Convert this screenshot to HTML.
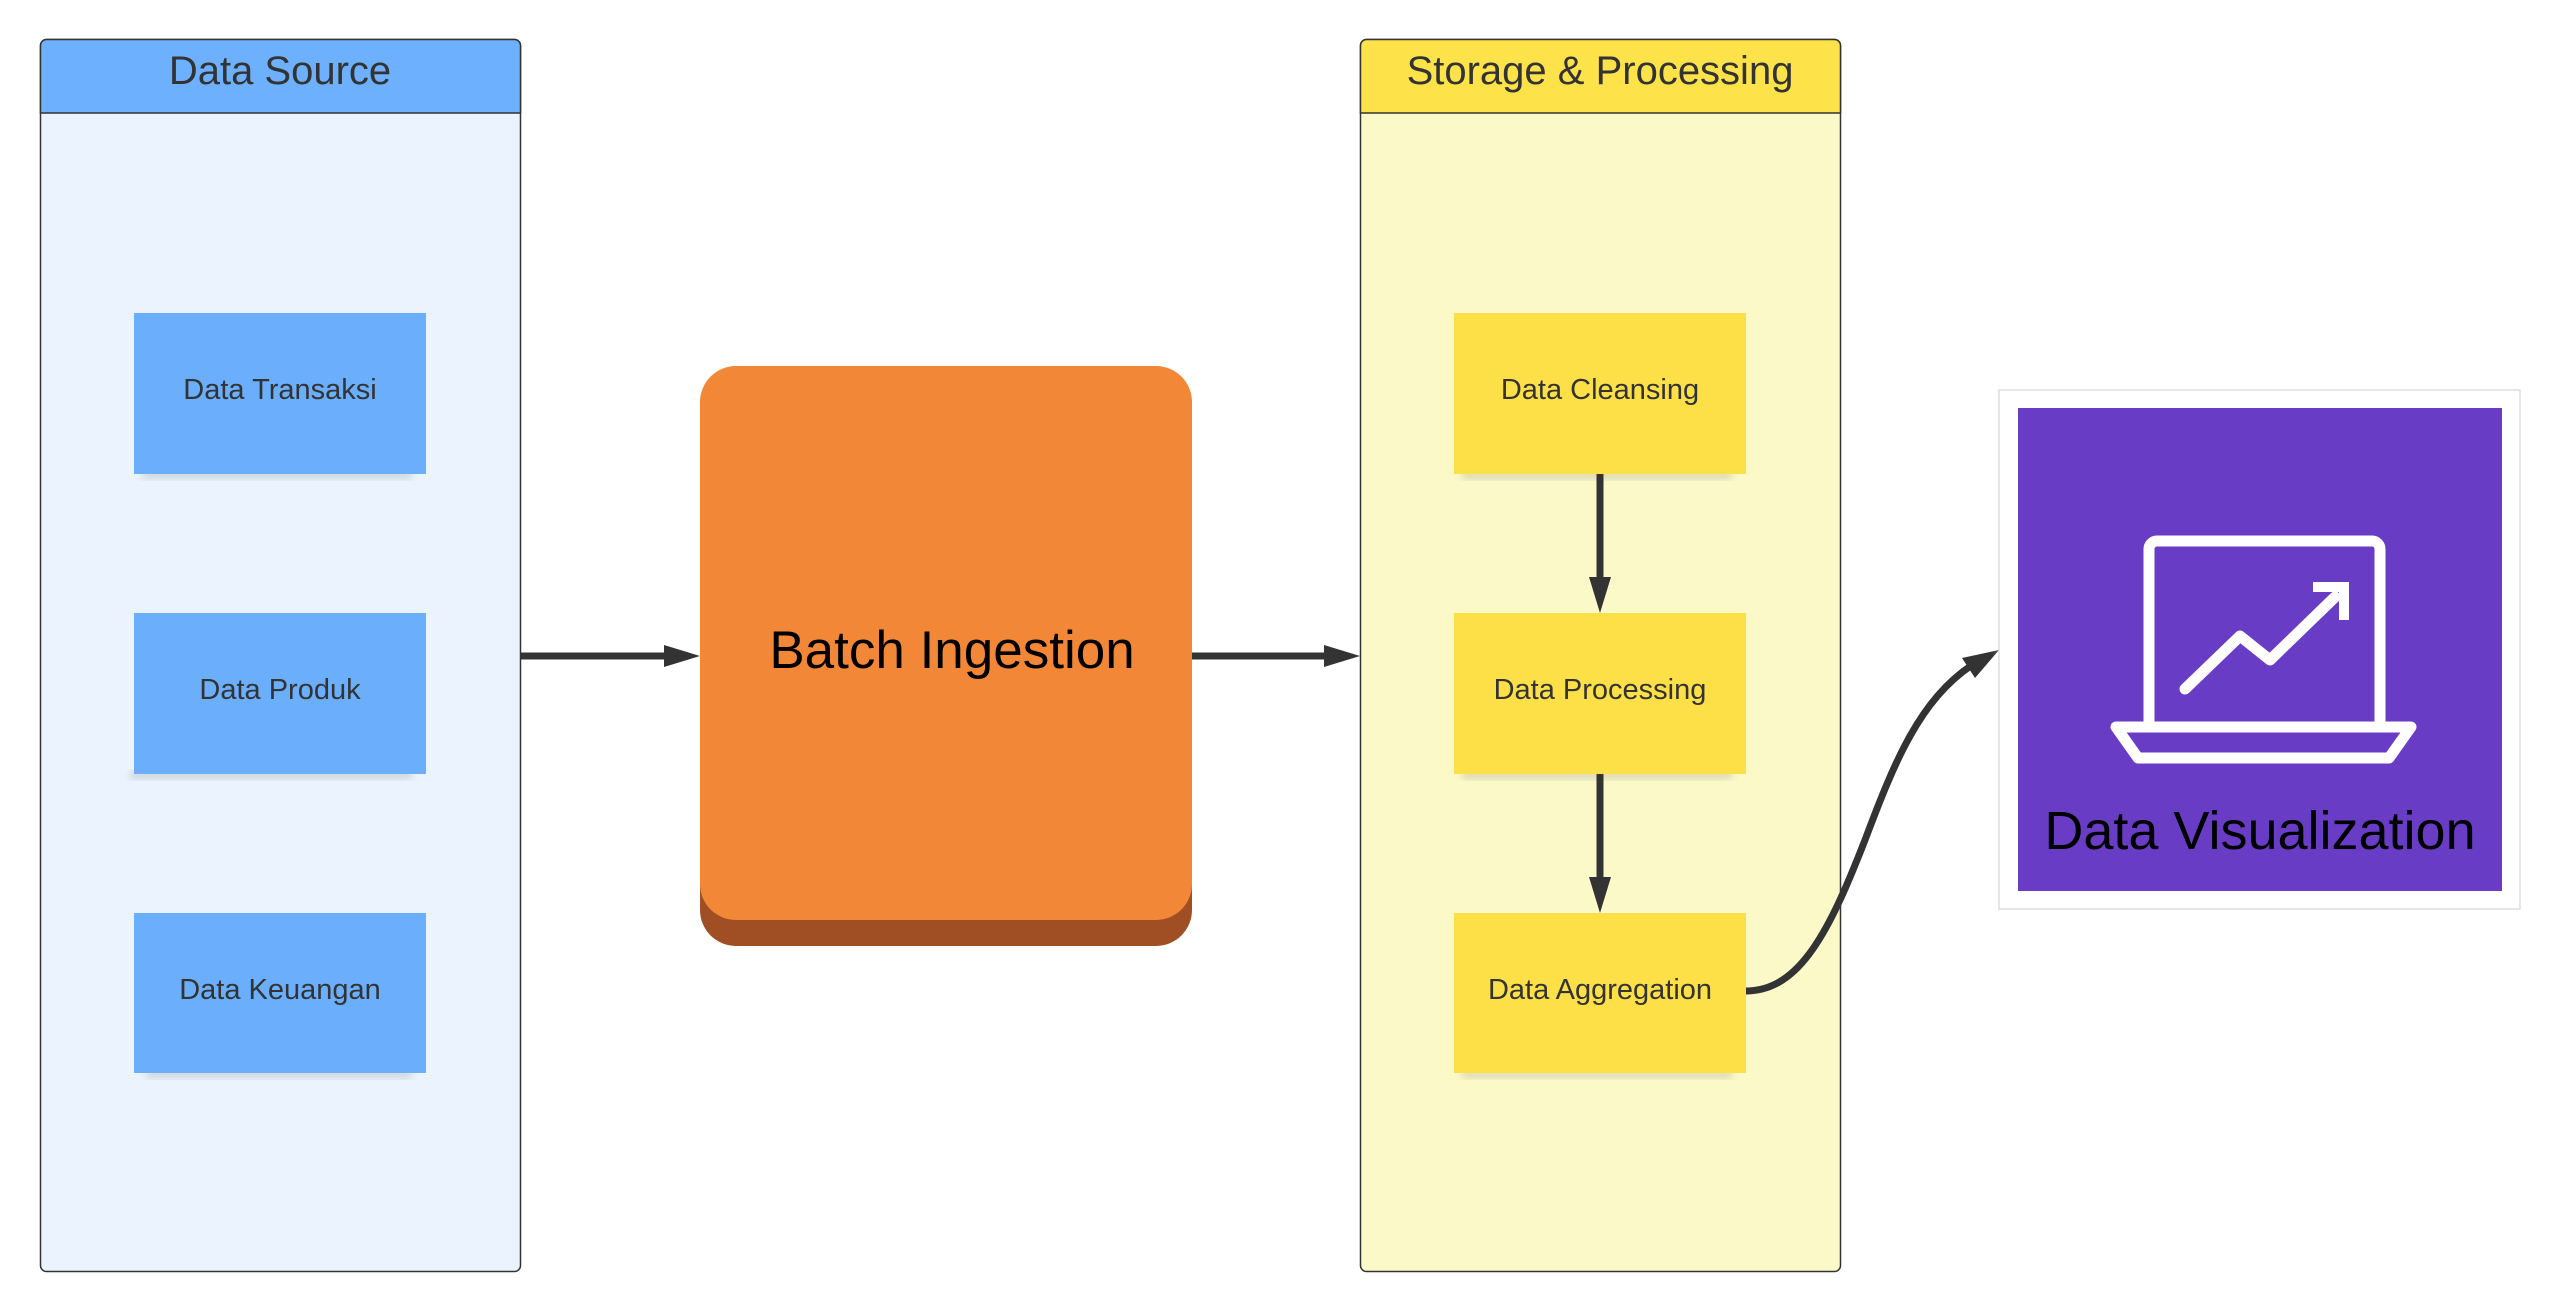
<!DOCTYPE html>
<html><head><meta charset="utf-8"><style>
html,body{margin:0;padding:0;background:#fff;}
svg{display:block;}
text{font-family:"Liberation Sans",Arial,sans-serif;}
</style></head><body>
<svg width="2560" height="1314" viewBox="0 0 2560 1314" xmlns="http://www.w3.org/2000/svg">
<defs>
<filter id="sh" x="-10%" y="-50%" width="130%" height="200%">
<feGaussianBlur stdDeviation="4"/>
</filter>
</defs>

<!-- Data Source container -->
<rect x="40.5" y="39.5" width="480" height="1232" rx="6" fill="#ebf4fe" stroke="#333" stroke-width="1.5"/>
<path d="M40.5,113 V45.5 a6,6 0 0 1 6,-6 H514.5 a6,6 0 0 1 6,6 V113 Z" fill="#6db0fd" stroke="#333" stroke-width="1.5"/>
<text x="280" y="84" font-size="40" text-anchor="middle" fill="#333">Data Source</text>

<!-- blue boxes -->
<rect x="142" y="472" width="270" height="6" fill="#666" opacity="0.3" filter="url(#sh)"/>
<rect x="134" y="313" width="292" height="161" fill="#6aaefc"/>
<text x="280" y="399" font-size="29" text-anchor="middle" fill="#333">Data Transaksi</text>
<rect x="130" y="772" width="282" height="6" fill="#666" opacity="0.3" filter="url(#sh)"/>
<rect x="134" y="613" width="292" height="161" fill="#6aaefc"/>
<text x="280" y="699" font-size="29" text-anchor="middle" fill="#333">Data Produk</text>
<rect x="146" y="1071" width="266" height="6" fill="#666" opacity="0.3" filter="url(#sh)"/>
<rect x="134" y="913" width="292" height="160" fill="#6aaefc"/>
<text x="280" y="999" font-size="29" text-anchor="middle" fill="#333">Data Keuangan</text>

<!-- Batch Ingestion -->
<rect x="700" y="390" width="492" height="556" rx="36" fill="#a04f25"/>
<rect x="700" y="366" width="492" height="554" rx="36" fill="#f38738"/>
<text x="952" y="668" font-size="53" text-anchor="middle" fill="#000">Batch Ingestion</text>

<!-- arrows -->
<line x1="520" y1="656" x2="672" y2="656" stroke="#333" stroke-width="7"/>
<polygon points="700,656 664,645 664,667" fill="#333"/>
<line x1="1192" y1="656" x2="1332" y2="656" stroke="#333" stroke-width="7"/>
<polygon points="1360,656 1324,645 1324,667" fill="#333"/>

<!-- Storage container -->
<rect x="1360.5" y="39.5" width="480" height="1232" rx="6" fill="#fcf9c8" stroke="#333" stroke-width="1.5"/>
<path d="M1360.5,113 V45.5 a6,6 0 0 1 6,-6 H1834.5 a6,6 0 0 1 6,6 V113 Z" fill="#fde24a" stroke="#333" stroke-width="1.5"/>
<text x="1600" y="84" font-size="40" text-anchor="middle" fill="#333">Storage &amp; Processing</text>

<rect x="1462" y="472" width="270" height="6" fill="#666" opacity="0.3" filter="url(#sh)"/>
<rect x="1454" y="313" width="292" height="161" fill="#fde047"/>
<text x="1600" y="399" font-size="29" text-anchor="middle" fill="#333">Data Cleansing</text>
<rect x="1462" y="772" width="270" height="6" fill="#666" opacity="0.3" filter="url(#sh)"/>
<rect x="1454" y="613" width="292" height="161" fill="#fde047"/>
<text x="1600" y="699" font-size="29" text-anchor="middle" fill="#333">Data Processing</text>
<rect x="1462" y="1071" width="270" height="6" fill="#666" opacity="0.3" filter="url(#sh)"/>
<rect x="1454" y="913" width="292" height="160" fill="#fde047"/>
<text x="1600" y="999" font-size="29" text-anchor="middle" fill="#333">Data Aggregation</text>

<line x1="1600" y1="474" x2="1600" y2="586" stroke="#333" stroke-width="7"/>
<polygon points="1600,613 1589,577 1611,577" fill="#333"/>
<line x1="1600" y1="774" x2="1600" y2="886" stroke="#333" stroke-width="7"/>
<polygon points="1600,913 1589,877 1611,877" fill="#333"/>

<!-- curve -->
<path d="M1746,991 C1800,991 1830,930 1865,840 C1895,760 1920,700 1972,665" fill="none" stroke="#333" stroke-width="7"/>
<polygon points="1999,650 1962,658 1975,678" fill="#333"/>

<!-- Visualization -->
<rect x="1999" y="390" width="521" height="519" fill="#fff" filter="url(#sh)" opacity="0.5"/>
<rect x="1999" y="390" width="521" height="519" fill="#fff" stroke="#ddd" stroke-width="1.5"/>
<rect x="2018" y="408" width="484" height="483" fill="#693cc5"/>
<g fill="none" stroke="#fff" stroke-width="11" stroke-linejoin="round" stroke-linecap="round">
<path d="M2149,722 V549 a8,8 0 0 1 8,-8 H2372 a8,8 0 0 1 8,8 V722"/>
<path d="M2116,727 H2411 L2389,758 H2138 Z"/>
<path d="M2185,689 L2240,636 L2270,660 L2335,597"/>
</g>
<polygon points="2313,582 2349,582 2349,620 2339,620 2339,592 2313,592" fill="#fff"/>
<text x="2260" y="849" font-size="54" text-anchor="middle" fill="#000">Data Visualization</text>
</svg>
</body></html>
